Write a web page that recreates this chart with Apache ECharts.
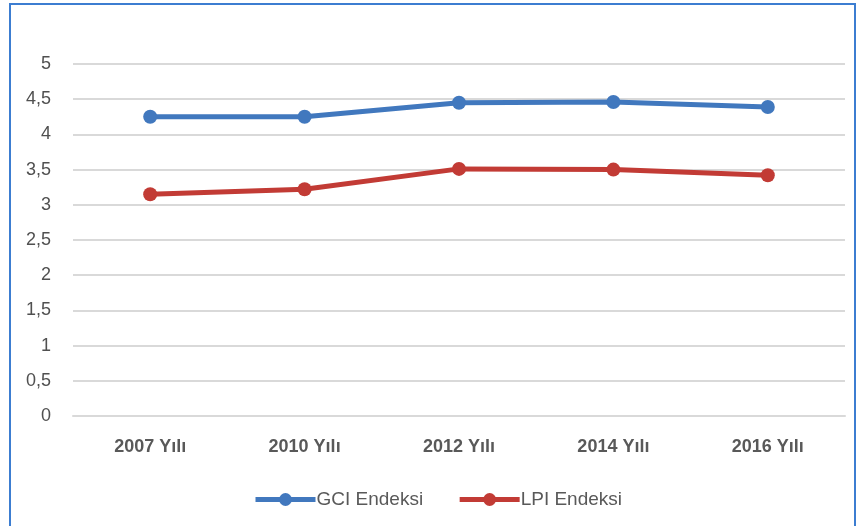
<!DOCTYPE html>
<html>
<head>
<meta charset="utf-8">
<script src="https://cdn.jsdelivr.net/npm/echarts@6/dist/echarts.min.js"></script>
<style>
  html, body { margin: 0; padding: 0; background: #fff; }
  #frame { position: absolute; left: 9px; top: 3px; width: 847px; height: 530px; border: 2px solid #3C7DD1; box-sizing: border-box; }
  #chart { position: absolute; left: 0; top: 0; width: 863px; height: 526px; }
</style>
</head>
<body>
<div id="frame"></div>
<div id="chart"></div>
<script>
// Yıllara göre GCI ve LPI endeks değerleri
const years = ['2007 Yılı', '2010 Yılı', '2012 Yılı', '2014 Yılı', '2016 Yılı'];
const gciValues = [4.25, 4.25, 4.45, 4.46, 4.39];
const lpiValues = [3.15, 3.22, 3.51, 3.50, 3.42];
const seriesNames = ['GCI Endeksi', 'LPI Endeksi'];

const textFont = "'Liberation Sans Narrow', 'Liberation Sans', sans-serif";
const textColor = '#595959';

const chart = echarts.init(document.getElementById('chart'));
chart.setOption({
  animation: false,
  grid: { left: 73, right: 18, top: 64, bottom: 110 },
  legend: {
    bottom: 12,
    left: 248,
    itemWidth: 60,
    itemHeight: 16,
    itemGap: 34,
    data: seriesNames,
    lineStyle: { width: 5 },
    textStyle: { fontFamily: textFont, fontSize: 19, color: textColor, padding: [0, 0, 0, -4] }
  },
  xAxis: {
    type: 'category',
    data: years,
    boundaryGap: true,
    axisLine: { show: true, lineStyle: { color: '#D9D9D9', width: 2 } },
    axisTick: { show: false },
    axisLabel: { margin: 22, fontFamily: textFont, fontSize: 18, fontWeight: 'bold', color: textColor }
  },
  yAxis: {
    type: 'value',
    min: 0,
    max: 5,
    interval: 0.5,
    axisLine: { show: false },
    axisTick: { show: false },
    splitLine: { lineStyle: { color: '#D9D9D9', width: 2 } },
    axisLabel: {
      margin: 22,
      fontFamily: textFont,
      fontSize: 18,
      color: '#505050',
      formatter: v => String(v).replace('.', ',')
    }
  },
  series: [
    {
      name: seriesNames[0],
      type: 'line',
      data: gciValues,
      symbol: 'circle',
      symbolSize: 14,
      lineStyle: { width: 5, color: '#4178BE' },
      itemStyle: { color: '#4178BE' }
    },
    {
      name: seriesNames[1],
      type: 'line',
      data: lpiValues,
      symbol: 'circle',
      symbolSize: 14,
      lineStyle: { width: 5, color: '#C23B35' },
      itemStyle: { color: '#C23B35' }
    }
  ]
});
</script>
</body>
</html>
